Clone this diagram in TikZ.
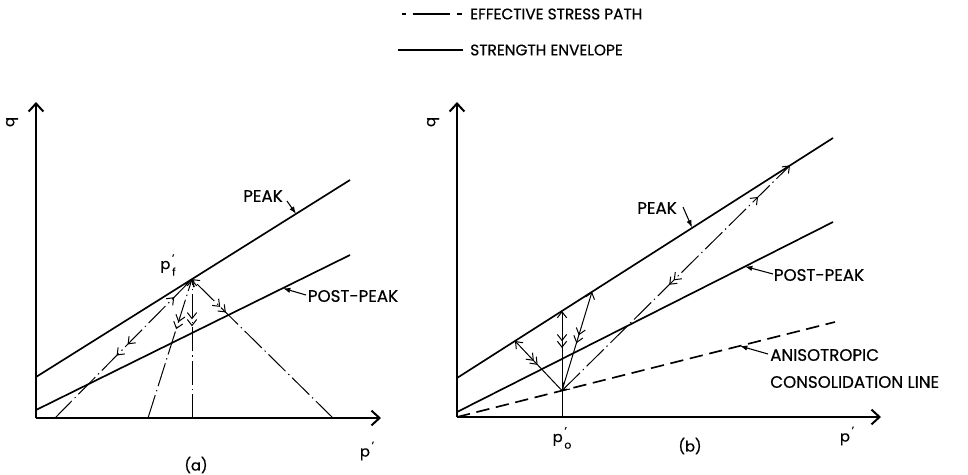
\documentclass[tikz,border=0pt]{standalone}
\usepackage{fontspec}
\setmainfont[FakeBold=0.6]{Poppins}
\usetikzlibrary{arrows.meta,decorations.markings}
\newcommand\primesub[2]{#1\rlap{\raisebox{0.5em}{\fontsize{8}{8}\selectfont\,'}}\raisebox{-0.45em}{\fontsize{8}{8}\selectfont\,#2}}
\newcommand\primeonly[1]{#1\raisebox{0.5em}{\fontsize{8}{8}\selectfont\,'}}
\tikzset{chev/.tip={Straight Barb[length=4.5pt,width=7pt,line width=0.75pt]}}
\begin{document}
\begin{tikzpicture}[x=0.75pt,y=-0.75pt,
  axis/.style={line width=1.5pt,-{Straight Barb[length=6pt,width=11pt,line width=1.5pt]}},
  env/.style={line width=1.25pt},
  esp/.style={line width=0.75pt,dash pattern=on 18pt off 3pt on 1pt off 3pt},
  thinp/.style={line width=0.75pt},
  consl/.style={line width=1.25pt,dash pattern=on 10pt off 5pt},
  lbl/.style={font=\fontsize{12.5}{14}\selectfont,inner sep=0pt},
  leg/.style={font=\fontsize{11.5}{13}\selectfont,inner sep=0pt},
  small/.style={font=\fontsize{11}{12}\selectfont,inner sep=0pt},
  ptr/.style={line width=0.8pt,-{Latex[length=5.5pt,width=4pt]}},
  endchev/.style={-chev},
  fwdone/.style={postaction={decorate,decoration={markings,mark=at position #1 with {\arrow{chev}}}}},
  bwdtwo/.style 2 args={postaction={decorate,decoration={markings,
      mark=at position #1 with {\arrowreversed{chev}},
      mark=at position #2 with {\arrowreversed{chev}}}}},
]
\useasboundingbox (0,0) rectangle (968,475);

% ---------------- legend ----------------
\coordinate (lg1a) at (402,14); \coordinate (lg1b) at (463,14);
\coordinate (lg2a) at (398,50); \coordinate (lg2b) at (463,50);
\draw[line width=0.8pt,dash pattern=on 3pt off 5pt on 28pt off 5pt on 4pt off 20pt] (lg1a) -- (lg1b);
\draw[env] (lg2a) -- (lg2b);
\node[leg,anchor=west] (lgt1) at (470,14) {EFFECTIVE STRESS PATH};
\node[leg,anchor=west] (lgt2) at (470,50) {STRENGTH ENVELOPE};

% ---------------- panel (a) ----------------
\coordinate (ao) at (36,418);
\coordinate (ay) at (36,102);
\coordinate (ax) at (381,418);
\draw[axis] (ao) -- (ay);
\draw[axis] (ao) -- (ax);
\coordinate (apk1) at (36,377); \coordinate (apk2) at (350,180);
\coordinate (app1) at (36,410); \coordinate (app2) at (350,255);
\draw[env] (apk1) -- (apk2);
\draw[env] (app1) -- (app2);
\coordinate (pf) at (192,279.1);
\coordinate (as1) at (55,418);
\coordinate (as2) at (148,418);
\coordinate (as3) at (192,418);
\coordinate (as4) at (333,418);
\draw[esp,fwdone=0.87,bwdtwo={0.45}{0.53}] (as1) -- (pf);
\draw[esp,endchev,bwdtwo={0.64}{0.69}] (as2) -- (pf);
\draw[esp,endchev,bwdtwo={0.66}{0.71}] (as3) -- (pf);
\draw[esp,endchev,bwdtwo={0.76}{0.80}] (as4) -- (pf);

\node[small] (qa) at (12,122) {\rotatebox{90}{q}};
\node[small] (pa) at (367,451) {\primeonly{p}};
\node[small] (capa) at (196,465) {(a)};
\node[small] (pflbl) at (168,265) {\primesub{p}{f}};
\node[lbl] (pka) at (263,196) {PEAK};
\coordinate (pkat) at (287,201); \coordinate (pkah) at (296,213.9);
\draw[ptr] (pkat) -- (pkah);
\node[lbl] (ppa) at (353,296) {POST-PEAK};
\coordinate (ppat) at (306,295); \coordinate (ppah) at (283,288.3);
\draw[ptr] (ppat) -- (ppah);

% ---------------- panel (b) ----------------
\coordinate (bo) at (457,417);
\coordinate (by) at (457,102);
\coordinate (bx) at (881,417);
\draw[axis] (bo) -- (by);
\draw[axis] (bo) -- (bx);
\coordinate (bpk1) at (457,378); \coordinate (bpk2) at (833,138);
\coordinate (bpp1) at (457,412); \coordinate (bpp2) at (833,222);
\coordinate (bcl2) at (835,322);
\draw[env] (bpk1) -- (bpk2);
\draw[env] (bpp1) -- (bpp2);
\draw[consl] (bo) -- (bcl2);
\coordinate (po) at (562,390.6);
\coordinate (pfoot) at (562,417);
\draw[thinp] (pfoot) -- (po);
\coordinate (tv) at (562,311);
\coordinate (tl) at (515,341);
\coordinate (tr) at (592,291.8);
\coordinate (tlong) at (790,165.4);
\draw[thinp,endchev,bwdtwo={0.535}{0.62}] (po) -- (tv);
\draw[thinp,endchev,bwdtwo={0.52}{0.60}] (po) -- (tl);
\draw[thinp,endchev,bwdtwo={0.48}{0.56}] (po) -- (tr);
\draw[esp,chev-chev,fwdone=0.86,bwdtwo={0.47}{0.49}] (po) -- (tlong);

\node[small] (qb) at (433,122) {\rotatebox{90}{q}};
\node[small] (pb) at (847,436) {\primeonly{p}};
\node[small] (pol) at (562,438) {\primesub{p}{o}};
\node[small] (capb) at (690,446) {(b)};
\node[lbl] (pkb) at (657,208) {PEAK};
\coordinate (pkbt) at (683,207); \coordinate (pkbh) at (692,227.5);
\draw[ptr] (pkbt) -- (pkbh);
\node[lbl] (ppb) at (819,275) {POST-PEAK};
\coordinate (ppbt) at (773,274); \coordinate (ppbh) at (745,266.5);
\draw[ptr] (ppbt) -- (ppbh);
\node[lbl,anchor=west] (an1) at (770,355) {ANISOTROPIC};
\node[lbl,anchor=west] (an2) at (770,382) {CONSOLIDATION LINE};
\coordinate (ant) at (768,354); \coordinate (anh) at (740,346);
\draw[ptr] (ant) -- (anh);
\end{tikzpicture}
\end{document}
